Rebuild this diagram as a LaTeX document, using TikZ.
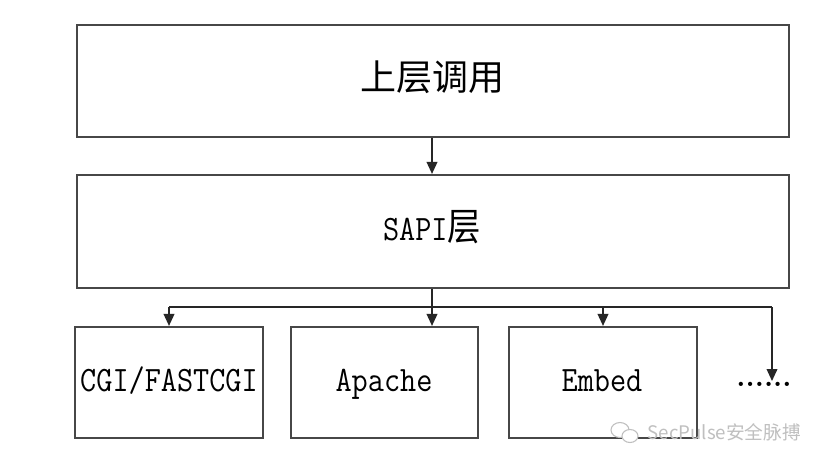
\documentclass[tikz,border=0pt]{standalone}
\usepackage{fontspec}
\newfontfamily\cjk{Noto Sans CJK SC}
\usetikzlibrary{arrows.meta}
\newcommand{\tallmono}[1]{\scalebox{1}[1.14]{\fontsize{23.5}{26}\ttfamily #1}}
\begin{document}
\begin{tikzpicture}[x=0.75pt,y=-0.75pt,
  box/.style={draw=black!72,line width=1.6pt,fill=white,inner sep=0pt},
  link/.style={draw=black!85,line width=1.2pt,-{Triangle[length=9pt,width=8pt]}},
  mono/.style={anchor=base,inner sep=0pt},
  wmark/.style={font=\fontsize{14}{16}\cjk,text=black!25}]
\useasboundingbox (0,0) rectangle (834,468);
\path[fill=white] (0,0) rectangle (834,468);
\node[box,minimum width=712*0.75pt,minimum height=112*0.75pt] (top) at (433,81) {};
\node[font=\fontsize{27}{30}\cjk] (toptext) at (432,77) {上层调用};
\node[box,minimum width=712*0.75pt,minimum height=113*0.75pt] (sapi) at (433,231.5) {};
\node[mono] (sapitext) at (432,240) {\tallmono{SAPI{\cjk\fontsize{25}{28}\selectfont 层}}};
\node[box,minimum width=188*0.75pt,minimum height=111*0.75pt] (cgi) at (169,382.5) {};
\node[mono] (cgitext) at (169,391) {\tallmono{CGI/FASTCGI}};
\node[box,minimum width=187*0.75pt,minimum height=111*0.75pt] (apache) at (384.5,382.5) {};
\node[mono] (apachetext) at (384,391) {\tallmono{Apache}};
\node[box,minimum width=188*0.75pt,minimum height=111*0.75pt] (embed) at (603,382.5) {};
\node[mono] (embedtext) at (602,391) {\tallmono{Embed}};
\node[font=\fontsize{22}{24}\bfseries,inner sep=0pt,anchor=base] (dots) at (764,386) {......};
\coordinate (busl) at (169,307);
\coordinate (busm) at (432,307);
\coordinate (buse) at (603,307);
\coordinate (busr) at (772,307);
\coordinate (dotend) at (772,381);
\draw[link] (top.south -| toptext) -- (sapi.north -| toptext);
\draw[link] (sapi.south -| busm) -- (apache.north -| busm);
\draw[draw=black!85,line width=1.2pt] (busl) -- (busr);
\draw[link] (busl) -- (cgi.north);
\draw[link] (buse) -- (embed.north);
\draw[link] (busr) -- (dotend);
\node[wmark,anchor=west] (wm) at (643,432) {SecPulse安全脉搏};
\draw[black!25,line width=0.8pt] (620,430) ellipse (9 and 7.5);
\draw[black!25,line width=0.8pt,fill=white] (630,436) ellipse (8 and 6.5);
\end{tikzpicture}
\end{document}
